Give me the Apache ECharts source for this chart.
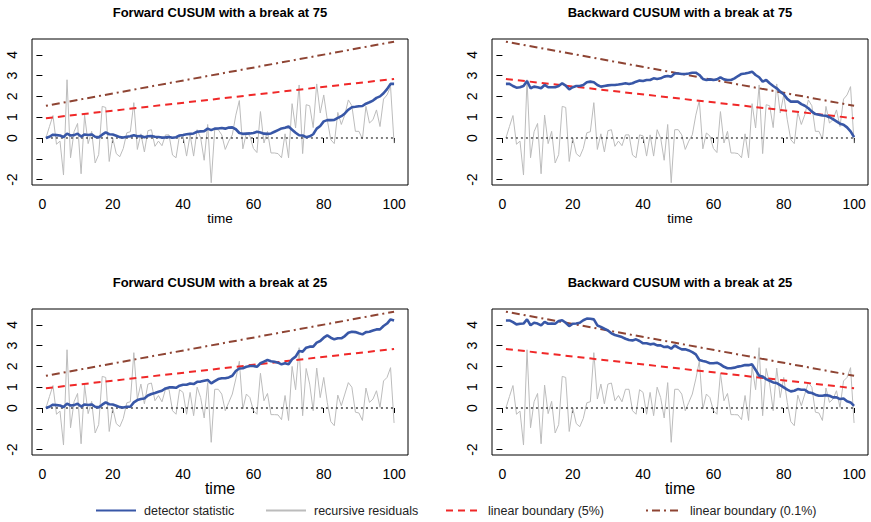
<!DOCTYPE html>
<html><head><meta charset="utf-8">
<script src="https://cdn.jsdelivr.net/npm/echarts@6/dist/echarts.min.js"></script>
<style>html,body{margin:0;padding:0;background:#fff}#c{width:871px;height:522px}</style>
</head><body><div id="c"></div>
<script>
// ---------- data ----------
const X_TICKS = [0, 20, 40, 60, 80, 100];
const Y_TICKS = [-2, -1, 0, 1, 2, 3, 4];
const Y_LABELS = [-2, 0, 1, 2, 3, 4];
const TIME_ENDS = [1, 100];
const ZERO_REF = [0, 0];

const TITLES = [
  'Forward CUSUM with a break at 75',
  'Backward CUSUM with a break at 75',
  'Forward CUSUM with a break at 25',
  'Backward CUSUM with a break at 25'
];

// recursive residuals, break at 75
const RESID_75 = [
  0, 0.55, 1.08, -0.3, -0.15, -1.78, 2.8, -0.95, 0.3, 0.7,
  -1.72, 1.1, -0.27, 0.32, -1.2, -0.8, 1.52, 1.47, -1.13, 0.0,
  -0.75, -0.9, -0.5, 0.25, 0.3, 1.7, -0.55, 0.2, -0.67, 0.35,
  0.4, -0.4, -0.15, -0.37, 0.15, 0.15, -0.82, -0.95, 0.15, 0.1,
  -0.87, 0.15, -0.87, 0.4, 0.0, -1.07, 0.65, -2.15, 0.4, 0.4,
  0.15, -0.55, -0.15, 0.15, 1.1, 1.8, -0.52, 0.24, 0.1, -0.5,
  -0.7, 1.27, -0.24, 0.32, -0.72, -0.72, -0.75, -0.95, 0.2, -0.95,
  1.65, 0.48, 2.55, -0.75, 1.6, 1.55, 0.5, 2.6, 1.2, 2.07,
  0.88, -0.08, -0.27, 1.23, 0.65, 1.12, 1.83, 1.55, 0.32, 0.32,
  -0.05, 1.52, 0.72, 0.88, 1.35, 0.55, 1.87, 2.07, 2.47, -0.25
];
// recursive residuals, break at 25
const RESID_25 = [
  0, 0.55, 1.08, -0.3, -0.15, -1.78, 2.8, -0.95, 0.3, 0.7,
  -1.72, 1.1, -0.27, 0.32, -1.2, -0.8, 1.52, 1.47, -1.13, 0.0,
  -0.75, -0.9, -0.5, 0.25, 0.3, 2.66, 0.43, 1.15, 0.2, 1.15,
  1.2, 0.35, 0.6, 0.3, 0.9, 0.9, -0.13, -0.3, 0.88, 0.75,
  -0.3, 0.75, -0.37, 1.0, 0.5, -0.48, 1.22, -1.65, 0.9, 0.9,
  0.67, -0.13, 0.27, 0.67, 1.4, 2.25, -0.05, 0.67, 0.5, -0.13,
  -0.3, 1.67, 0.35, 0.7, -0.32, -0.32, -0.33, -0.56, 0.6, -0.6,
  2.0, 0.88, 2.9, -0.37, 1.9, 1.15, -0.13, 1.92, 0.5, 1.47,
  0.27, -0.65, -0.85, 0.62, 0.11, 0.67, 1.22, 1.0, -0.2, -0.24,
  -0.6, 0.96, 0.27, 0.43, 0.83, 0.03, 1.3, 1.47, 1.94, -0.72
];

const DET_FWD_75 = [
  0.00, 0.06, 0.16, 0.14, 0.12, 0.05, 0.21, 0.12, 0.14, 0.21,
  0.07, 0.17, 0.14, 0.17, 0.06, 0.03, 0.16, 0.27, 0.18, 0.17,
  0.11, 0.04, 0.02, 0.06, 0.08, 0.13, 0.08, 0.10, 0.04, 0.08,
  0.10, 0.06, 0.05, 0.02, 0.03, 0.05, 0.01, 0.04, 0.12, 0.14,
  0.18, 0.20, 0.22, 0.30, 0.32, 0.33, 0.45, 0.38, 0.45, 0.46,
  0.48, 0.45, 0.50, 0.51, 0.42, 0.24, 0.20, 0.21, 0.22, 0.24,
  0.30, 0.26, 0.21, 0.20, 0.22, 0.30, 0.38, 0.46, 0.49, 0.55,
  0.40, 0.25, 0.13, 0.12, 0.04, 0.08, 0.18, 0.45, 0.58, 0.80,
  0.86, 0.86, 0.87, 0.97, 1.05, 1.18, 1.36, 1.48, 1.50, 1.53,
  1.54, 1.65, 1.72, 1.80, 1.93, 2.00, 2.15, 2.35, 2.60, 2.60
];
const DET_BWD_75 = [
  2.60, 2.60, 2.50, 2.42, 2.44, 2.50, 2.74, 2.39, 2.47, 2.44,
  2.39, 2.55, 2.44, 2.44, 2.44, 2.50, 2.63, 2.52, 2.34, 2.44,
  2.50, 2.50, 2.55, 2.68, 2.71, 2.68, 2.55, 2.47, 2.50, 2.53,
  2.55, 2.55, 2.57, 2.60, 2.63, 2.60, 2.63, 2.71, 2.76, 2.74,
  2.79, 2.79, 2.87, 2.84, 2.87, 2.95, 2.98, 2.95, 3.10, 3.10,
  3.08, 3.08, 3.10, 3.14, 3.14, 3.03, 2.84, 2.79, 2.82, 2.79,
  2.82, 2.92, 2.82, 2.79, 2.79, 2.87, 2.98, 3.08, 3.10, 3.14,
  3.19, 3.03, 2.92, 2.71, 2.79, 2.63, 2.50, 2.39, 2.23, 2.10,
  1.88, 1.75, 1.75, 1.75, 1.63, 1.55, 1.43, 1.27, 1.15, 1.12,
  1.08, 1.07, 1.00, 0.91, 0.80, 0.69, 0.64, 0.51, 0.32, 0.04
];
const DET_FWD_25 = [
  0.00, 0.06, 0.16, 0.14, 0.12, 0.05, 0.21, 0.12, 0.14, 0.21,
  0.07, 0.17, 0.14, 0.17, 0.06, 0.03, 0.16, 0.27, 0.18, 0.17,
  0.11, 0.04, 0.02, 0.06, 0.06, 0.27, 0.38, 0.43, 0.46, 0.60,
  0.67, 0.72, 0.78, 0.83, 0.94, 0.99, 0.99, 0.97, 1.07, 1.12,
  1.12, 1.18, 1.15, 1.26, 1.27, 1.31, 1.35, 1.18, 1.29, 1.39,
  1.43, 1.43, 1.47, 1.55, 1.78, 1.90, 1.91, 1.98, 2.02, 2.02,
  1.98, 2.15, 2.23, 2.31, 2.25, 2.22, 2.18, 2.10, 2.15, 2.10,
  2.34, 2.47, 2.74, 2.71, 2.90, 2.95, 2.95, 3.14, 3.22, 3.38,
  3.49, 3.38, 3.30, 3.35, 3.35, 3.46, 3.62, 3.67, 3.65, 3.59,
  3.54, 3.65, 3.67, 3.73, 3.78, 3.78, 3.94, 4.06, 4.26, 4.21
];
const DET_BWD_25 = [
  4.21, 4.21, 4.13, 4.02, 4.05, 4.06, 4.26, 3.98, 4.10, 4.06,
  3.97, 4.14, 4.05, 4.06, 4.05, 4.18, 4.22, 4.10, 3.94, 4.05,
  4.06, 4.10, 4.22, 4.30, 4.29, 4.26, 3.97, 3.90, 3.81, 3.73,
  3.59, 3.51, 3.46, 3.41, 3.33, 3.27, 3.25, 3.30, 3.22, 3.11,
  3.11, 3.06, 3.09, 3.01, 3.01, 2.93, 2.95, 2.85, 3.01, 2.90,
  2.82, 2.82, 2.77, 2.69, 2.58, 2.31, 2.26, 2.22, 2.15, 2.15,
  2.18, 2.10, 1.98, 1.91, 1.91, 1.94, 1.99, 2.02, 2.07, 2.06,
  2.10, 1.83, 1.55, 1.51, 1.39, 1.31, 1.23, 1.20, 1.10, 0.99,
  0.88, 0.80, 0.83, 0.91, 0.88, 0.88, 0.75, 0.72, 0.64, 0.59,
  0.59, 0.62, 0.59, 0.51, 0.51, 0.43, 0.46, 0.32, 0.27, 0.10
];

const BOUND5_FWD = [0.95, 2.84];
const BOUND01_FWD = [1.55, 4.63];
const BOUND5_BWD = [2.84, 0.95];
const BOUND01_BWD = [4.63, 1.55];

const NAMES = ['detector statistic', 'recursive residuals', 'linear boundary (5%)', 'linear boundary (0.1%)'];

// ---------- styling / layout ----------
const FONT = '"Liberation Sans", Arial, Helvetica, sans-serif';
const COL = { det: '#3857a7', res: '#bcbcbc', b5: '#f02828', b01: '#8e4433' };

const panels = [
  { resid: RESID_75, det: DET_FWD_75, b5: BOUND5_FWD, b01: BOUND01_FWD, left: 32, top: 39, zero: '#000', zw: 1, tSize: 13.5 },
  { resid: RESID_75, det: DET_BWD_75, b5: BOUND5_BWD, b01: BOUND01_BWD, left: 492, top: 39, zero: '#000', zw: 1, tSize: 13.5 },
  { resid: RESID_25, det: DET_FWD_25, b5: BOUND5_FWD, b01: BOUND01_FWD, left: 32, top: 309, zero: '#444', zw: 1.5, tSize: 16 },
  { resid: RESID_25, det: DET_BWD_25, b5: BOUND5_BWD, b01: BOUND01_BWD, left: 492, top: 309, zero: '#444', zw: 1.5, tSize: 16 }
];
const GW = 376, GH = 146;

const grid = [], xAxis = [], yAxis = [], series = [], graphic = [];
panels.forEach((p, i) => {
  grid.push({ left: p.left, top: p.top, width: GW, height: GH, show: true, borderColor: '#000', borderWidth: 1, backgroundColor: 'transparent' });
  xAxis.push({
    gridIndex: i, type: 'value', min: -2.96, max: 103.96, offset: 2,
    axisLine: { show: false },
    splitLine: { show: false },
    axisTick: { show: true, customValues: X_TICKS, length: 5, lineStyle: { color: '#000', width: 1 } },
    axisLabel: { customValues: X_TICKS, margin: 10, fontSize: 14, color: '#000', fontFamily: FONT }
  });
  yAxis.push({
    gridIndex: i, type: 'value', min: -2.26, max: 4.76,
    axisLine: { show: false },
    splitLine: { show: false },
    axisTick: { show: true, customValues: Y_TICKS, length: 6, lineStyle: { color: '#000', width: 1 } },
    axisLabel: { customValues: Y_LABELS, rotate: 90, margin: 13, fontSize: 14, color: '#000', fontFamily: FONT }
  });
  const common = { xAxisIndex: i, yAxisIndex: i, type: 'line', symbol: 'none', showSymbol: false, animation: false, silent: true };
  series.push(Object.assign({}, common, {
    name: NAMES[1], data: p.resid.map((v, j) => [j + 1, v]),
    itemStyle: { color: COL.res }, lineStyle: { color: COL.res, width: 1 }, z: 2
  }));
  series.push(Object.assign({}, common, {
    name: 'zero', data: TIME_ENDS.map((t, j) => [t, ZERO_REF[j]]),
    lineStyle: { color: p.zero, width: p.zw, type: [2, 3] }, z: 3
  }));
  series.push(Object.assign({}, common, {
    name: NAMES[2], data: TIME_ENDS.map((t, j) => [t, p.b5[j]]),
    itemStyle: { color: COL.b5 }, lineStyle: { color: COL.b5, width: 2, type: [7, 5] }, z: 4
  }));
  series.push(Object.assign({}, common, {
    name: NAMES[3], data: TIME_ENDS.map((t, j) => [t, p.b01[j]]),
    itemStyle: { color: COL.b01 }, lineStyle: { color: COL.b01, width: 2, type: [2, 4, 8, 4] }, z: 4
  }));
  series.push(Object.assign({}, common, {
    name: NAMES[0], data: p.det.map((v, j) => [j + 1, v]),
    itemStyle: { color: COL.det }, lineStyle: { color: COL.det, width: 2.6 }, z: 5
  }));
  graphic.push({
    type: 'text', x: p.left + GW / 2, y: p.top - 27,
    style: { text: TITLES[i], font: 'bold 13px ' + FONT, fill: '#000', align: 'center', verticalAlign: 'middle' }
  });
  graphic.push({
    type: 'text', x: p.left + GW / 2, y: p.top + GH + 33,
    style: { text: 'time', font: p.tSize + 'px ' + FONT, fill: '#000', align: 'center', verticalAlign: 'middle' }
  });
});

const legendPos = [
  { left: 95, w: 40 }, { left: 265, w: 40 }, { left: 445, w: 34 }, { left: 645, w: 36 }
];
const legend = NAMES.map((n, i) => ({
  data: [n], left: legendPos[i].left, top: 504, itemWidth: legendPos[i].w, itemHeight: 14, itemGap: 0,
  padding: 0, selectedMode: false,
  itemStyle: { opacity: 0 },
  textStyle: { fontSize: 12.5, color: '#222', fontFamily: FONT, padding: [0, 0, 0, 3] }
}));

const chart = echarts.init(document.getElementById('c'), null, { renderer: 'svg' });
chart.setOption({
  animation: false,
  backgroundColor: '#fff',
  textStyle: { fontFamily: FONT },
  grid, xAxis, yAxis, series, legend, graphic
});
</script></body></html>
